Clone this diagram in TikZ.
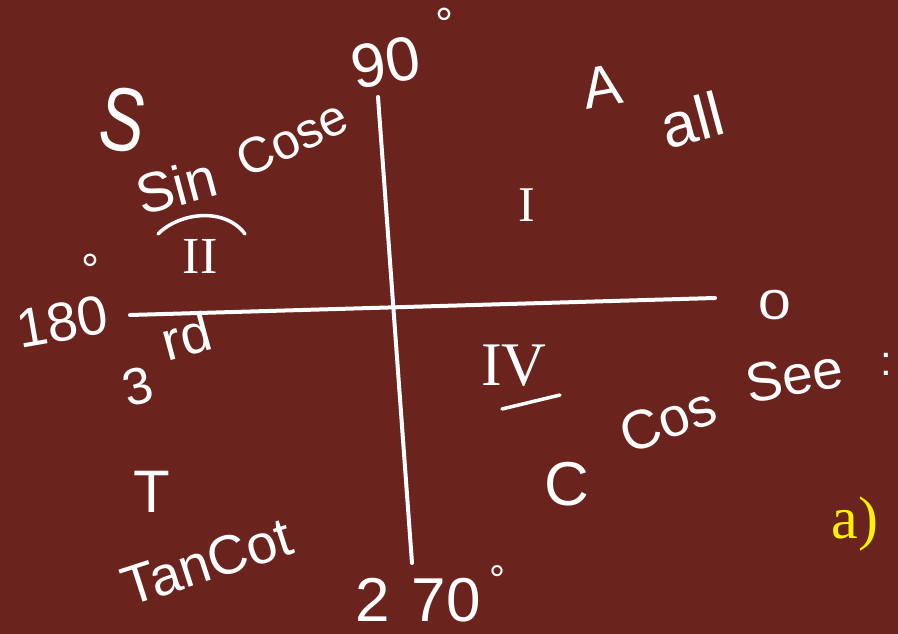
\documentclass[tikz,border=0pt]{standalone}
\usepackage{fontspec}
\setmainfont{Liberation Sans}
\newfontfamily\romfont{Liberation Serif}
\definecolor{bg}{RGB}{107,35,30}
\definecolor{yel}{RGB}{255,242,0}
\begin{document}
\begin{tikzpicture}[x=1pt,y=-1pt,
  hand/.style={text=white, inner sep=0pt, font=\fontsize{#1}{#1}\selectfont},
  hand/.default=50,
  roman/.style={text=white, inner sep=0pt, font=\romfont\fontsize{#1}{#1}\selectfont},
  roman/.default=50,
  axis/.style={draw=white, line width=4pt, line cap=round},
  mark line/.style={draw=white, line width=3.5pt, line cap=round}]
\fill[bg] (0,0) rectangle (898,634);
\useasboundingbox (0,0) rectangle (898,634);
% axes
\coordinate (top) at (378,97);
\coordinate (bot) at (412,563);
\coordinate (lft) at (130,315);
\coordinate (rgt) at (715,298);
\draw[axis] (top) -- (bot);
\draw[axis] (lft) -- (rgt);
% quadrant II
\node[hand=90,rotate=-10,xscale=0.75] (S) at (123,120) {S};
\node[hand=56,rotate=15] (sin) at (176,186) {Sin};
\node[hand=50,rotate=25] (cose) at (292,138) {Cose};
\node[roman=52] (two) at (200,256) {II};
\coordinate (arcL) at (158,234);
\coordinate (arcR) at (245,234);
\draw[mark line] (arcL) .. controls (180,212) and (225,207) .. (arcR);
% 90
\node[hand=62,rotate=10] (ninety) at (386,62) {90};
\node[hand=45] (deg90) at (444,24) {°};
% quadrant I
\node[hand=58,rotate=10] (A) at (602,86) {A};
\node[hand=62,rotate=15] (all) at (692,120) {all};
\node[roman=50] (one) at (527,205) {I};
% 180 / 0
\node[hand=55,rotate=10] (oneeighty) at (62,322) {180};
\node[hand=45] (deg180) at (90,270) {°};
\node[hand=42,xscale=1.4] (zero) at (775,305) {0};
% quadrant III
\node[hand=55,rotate=15] (rd) at (186,336) {rd};
\node[hand=52,rotate=15] (three) at (138,386) {3};
\node[hand=60] (T) at (152,492) {T};
\node[hand=55,rotate=18] (tancot) at (207,562) {TanCot};
% 270
\node[hand=62] (twoseventy) at (418,600) {2\hspace{22pt}70};
\node[hand=40] (deg270) at (497,580) {°};
% quadrant IV
\node[roman=62] (four) at (514,366) {IV};
\coordinate (ulA) at (502,409);
\coordinate (ulB) at (560,395);
\draw[mark line] (ulA) -- (ulB);
\node[hand=55,rotate=20] (cos) at (668,420) {Cos};
\node[hand=55,rotate=10] (see) at (794,376) {See};
\node[hand=42] (dots) at (886,364) {:};
\node[hand=62] (C) at (567,484) {C};
% label
\node[text=yel, inner sep=0pt, font=\romfont\fontsize{60}{60}\selectfont] (lab) at (855,524) {a)};
\end{tikzpicture}
\end{document}
